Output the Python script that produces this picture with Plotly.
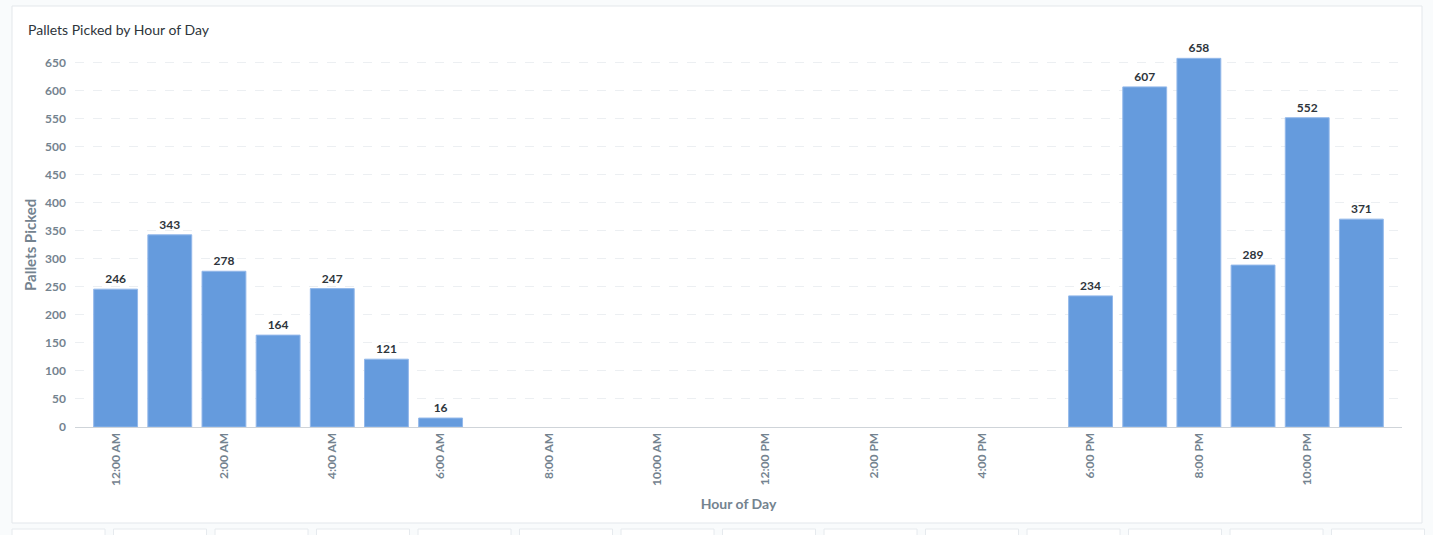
import plotly.graph_objects as go

hours = ["12:00 AM", "1:00 AM", "2:00 AM", "3:00 AM", "4:00 AM", "5:00 AM",
         "6:00 AM", "7:00 AM", "8:00 AM", "9:00 AM", "10:00 AM", "11:00 AM",
         "12:00 PM", "1:00 PM", "2:00 PM", "3:00 PM", "4:00 PM", "5:00 PM",
         "6:00 PM", "7:00 PM", "8:00 PM", "9:00 PM", "10:00 PM", "11:00 PM"]
pallets = [246, 343, 278, 164, 247, 121, 16, None, None, None, None, None,
           None, None, None, None, None, None, 234, 607, 658, 289, 552, 371]
tick_labels = hours[::2]
y_ticks = list(range(0, 651, 50))

W, H = 1433, 535
L, R, T, B = 75, 31, 46, 108
pw, ph = W - L - R, H - T - B

def px_x(x):
    return (x - L) / pw

def px_y(y):
    return (H - B - y) / ph

fig = go.Figure()
fig.add_trace(go.Bar(
    x=hours, y=pallets,
    marker=dict(color="#659bdd", line=dict(color="#93b8ea", width=1)),
    width=0.81,
    text=[str(v) if v is not None else "" for v in pallets],
    textposition="outside",
    textfont=dict(family="Lato", size=12, color="#2e353b", weight="bold"),
    cliponaxis=False,
    hoverinfo="x+y",
))

# card background
fig.add_shape(type="rect", xref="paper", yref="paper",
              x0=px_x(12), x1=px_x(1422), y0=px_y(523), y1=px_y(6),
              fillcolor="white", line=dict(color="#e3e7eb", width=1), layer="below")
# partial cards below
for i in range(14):
    x0 = 12 + i * 101.5
    fig.add_shape(type="rect", xref="paper", yref="paper",
                  x0=px_x(x0), x1=px_x(x0 + 93), y0=px_y(540), y1=px_y(529),
                  fillcolor="white", line=dict(color="#e6eaee", width=1), layer="below")

fig.add_annotation(text="Pallets Picked", xref="paper", yref="paper",
                   x=px_x(30), y=px_y(245), textangle=-90, showarrow=False,
                   xanchor="center", yanchor="middle",
                   font=dict(family="Lato", size=15, color="#74838f", weight="bold"))

fig.update_layout(
    width=W, height=H,
    margin=dict(l=L, r=R, t=T, b=B),
    paper_bgcolor="#f9fbfc",
    plot_bgcolor="rgba(0,0,0,0)",
    font=dict(family="Lato", color="#74838f"),
    title=dict(text="Pallets Picked by Hour of Day", xref="container", yref="container",
               x=28 / W, xanchor="left", y=1 - 30 / H, yanchor="middle",
               font=dict(family="Lato", size=14, color="#2e353b")),
    showlegend=False,
    bargap=0.19,
)
fig.update_xaxes(
    type="category", range=[-0.75, 23.75],
    tickmode="array", tickvals=tick_labels, ticktext=tick_labels,
    tickangle=-90,
    tickfont=dict(family="Lato", size=12, color="#74838f", weight="bold"),
    showline=True, linecolor="#cfd4d9", linewidth=1,
    showgrid=False, ticks="", ticklen=0,
    title=dict(text="Hour of Day", standoff=14,
               font=dict(family="Lato", size=14, color="#74838f", weight="bold")),
)
fig.update_yaxes(
    range=[0, 680], tickvals=y_ticks,
    tickfont=dict(family="Lato", size=12, color="#74838f", weight="bold"),
    showgrid=True, gridcolor="#eceff2", griddash="dash", gridwidth=1,
    zeroline=False, showline=False, ticks="", ticklabelstandoff=8,
)

fig.write_html("out.html", config={"displayModeBar": False},
               post_script="document.body.style.margin='0';document.body.style.overflow='hidden';")
